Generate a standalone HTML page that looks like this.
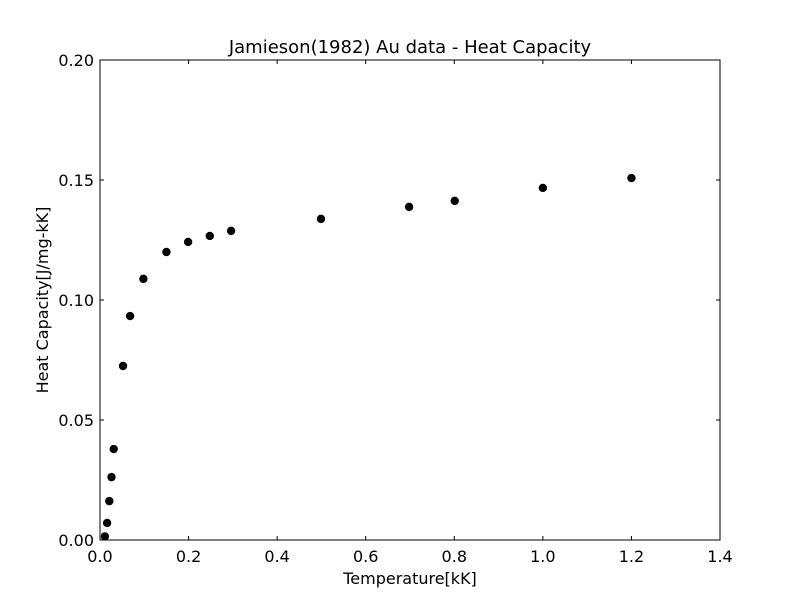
<!DOCTYPE html>
<html><head><meta charset="utf-8"><style>
body{margin:0;background:#fff;}
svg text{font-family:"DejaVu Sans","Liberation Sans",sans-serif;fill:#000;}
</style></head><body>
<svg id="chart" width="800" height="600" xmlns="http://www.w3.org/2000/svg">
<rect width="800" height="600" fill="#fff"/>
<g id="ticks"></g>
<g id="marks"></g>
<rect x="100" y="60" width="620" height="480" fill="none" stroke="#000" stroke-width="1"/>
<text x="410" y="53" font-size="18" text-anchor="middle">Jamieson(1982) Au data - Heat Capacity</text>
<text x="410" y="584" font-size="16" text-anchor="middle">Temperature[kK]</text>
<text transform="translate(48,300) rotate(-90)" font-size="16" text-anchor="middle">Heat Capacity[J/mg-kK]</text>
</svg>
<script>
const temps = [0.011,0.016,0.021,0.026,0.031,0.052,0.068,0.098,0.15,0.199,0.248,0.296,0.499,0.698,0.801,1.0,1.2];
const heatCap = [0.0015,0.0071,0.0162,0.0262,0.0379,0.0725,0.0933,0.1088,0.12,0.1242,0.1267,0.1288,0.1338,0.1388,0.1413,0.1467,0.1508];
const xTicks = [0,0.2,0.4,0.6,0.8,1.0,1.2,1.4];
const xTickLabels = ["0.0","0.2","0.4","0.6","0.8","1.0","1.2","1.4"];
const yTicks = [0,0.05,0.1,0.15,0.2];
const yTickLabels = ["0.00","0.05","0.10","0.15","0.20"];
const NS="http://www.w3.org/2000/svg";
const X0=100,X1=720,Y0=540,Y1=60;
const xs=v=>X0+(v-0)/1.4*(X1-X0);
const ys=v=>Y0-(v-0)/0.2*(Y0-Y1);
const tg=document.getElementById('ticks'), mg=document.getElementById('marks');
function mk(tag,attrs,parent){const e=document.createElementNS(NS,tag);for(const k in attrs)e.setAttribute(k,attrs[k]);parent.appendChild(e);return e;}
xTicks.forEach((t,i)=>{const x=xs(t);
 const a=mk('line',{x1:x,x2:x,y1:Y0,y2:Y0-4,stroke:'#000'},tg);
 
 
 const b=mk('line',{x1:x,x2:x,y1:Y1,y2:Y1+4,stroke:'#000'},tg);
 
 
 const l=mk('text',{x:x,y:Y0+22,'font-size':16,'text-anchor':'middle'},tg);l.textContent=xTickLabels[i];
 
 
});
yTicks.forEach((t,i)=>{const y=ys(t);
 const a=mk('line',{x1:X0,x2:X0+4,y1:y,y2:y,stroke:'#000'},tg);
 
 
 const b=mk('line',{x1:X1,x2:X1-4,y1:y,y2:y,stroke:'#000'},tg);
 
 
 const l=mk('text',{x:X0-6,y:y+6,'font-size':16,'text-anchor':'end'},tg);l.textContent=yTickLabels[i];
 
 
});
temps.forEach((t,i)=>{
 const c=mk('circle',{cx:xs(t),cy:ys(heatCap[i]),r:4.2,fill:'#000'},mg);
 
 
});
</script>
</body></html>
